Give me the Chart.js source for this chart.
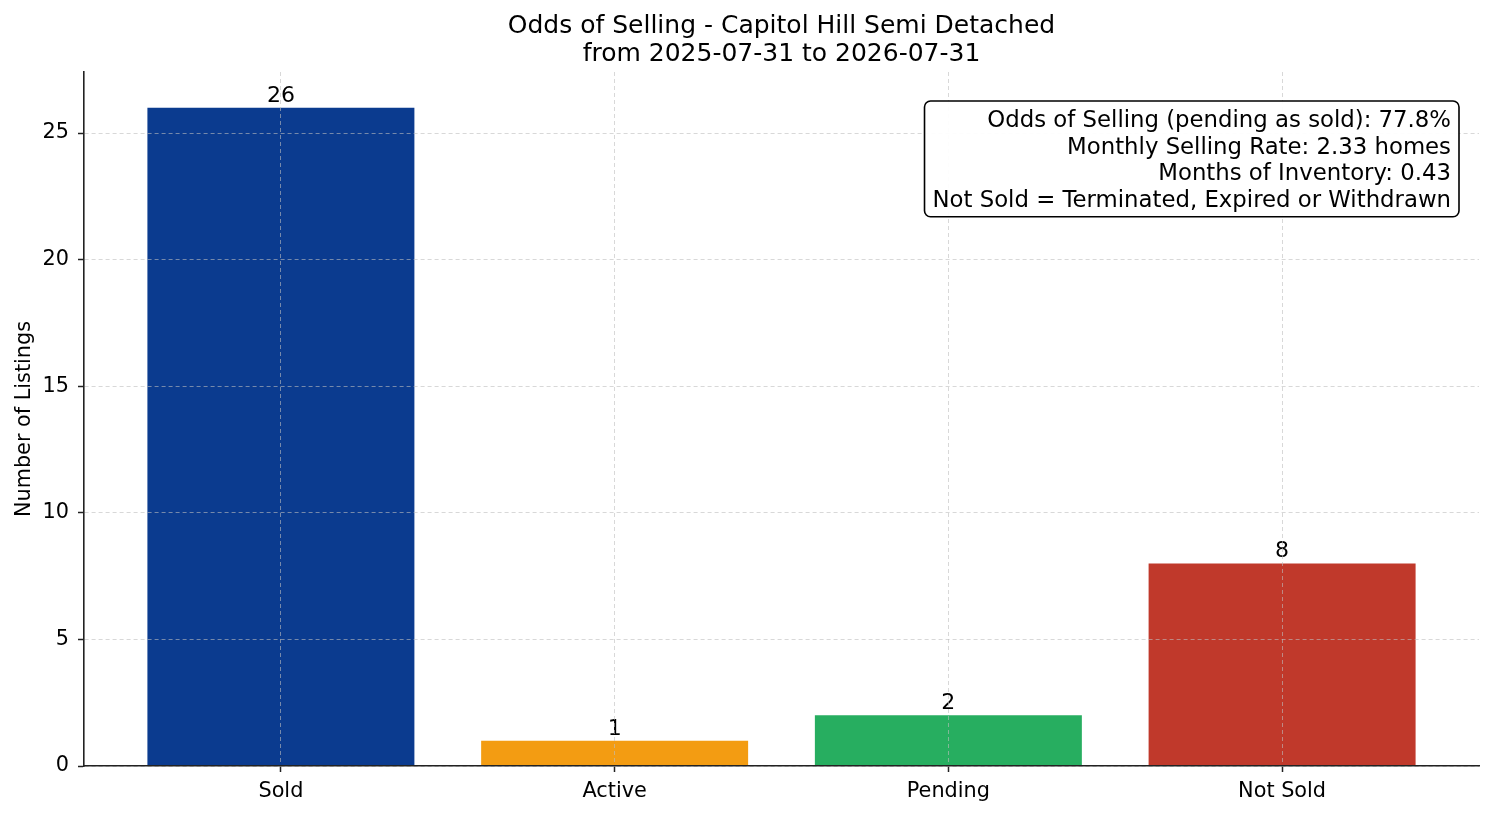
<!DOCTYPE html>
<html>
<head>
<meta charset="utf-8">
<title>Odds of Selling</title>
<script src="https://cdn.jsdelivr.net/npm/chart.js@4.4.1/dist/chart.umd.min.js"></script>
<style>
  html, body { margin: 0; padding: 0; background: #fff; }
  #wrap { width: 1494px; height: 816px; }
</style>
</head>
<body>
<div id="wrap"><canvas id="oddsChart" width="1494" height="816"></canvas></div>
<script>
// data
const categories = ['Sold', 'Active', 'Pending', 'Not Sold'];
const counts = [26, 1, 2, 8];
const barColors = ['#0b3b8f', '#f39c12', '#27ae60', '#c0392b'];
const yTicks = [0, 5, 10, 15, 20, 25];
const titleLines = ['Odds of Selling - Capitol Hill Semi Detached', 'from 2025-07-31 to 2026-07-31'];
const infoLines = [
  'Odds of Selling (pending as sold): 77.8%',
  'Monthly Selling Rate: 2.33 homes',
  'Months of Inventory: 0.43',
  'Not Sold = Terminated, Expired or Withdrawn'
];

const FONT = "'DejaVu Sans', sans-serif";
const gridColor = 'rgba(190,190,190,0.6)';
const axisColor = '#222';

// numbers on top of the bars
const barLabels = {
  id: 'barLabels',
  afterDatasetsDraw(chart) {
    const c = chart.ctx;
    const meta = chart.getDatasetMeta(0);
    c.save();
    c.font = '22px ' + FONT;
    c.fillStyle = '#000';
    c.textAlign = 'center';
    c.textBaseline = 'alphabetic';
    meta.data.forEach((bar, i) => {
      c.fillText(String(counts[i]), bar.x, bar.y - 6);
    });
    c.restore();
  }
};

// stats box in the top right corner
const infoBox = {
  id: 'infoBox',
  afterDraw(chart) {
    const c = chart.ctx;
    const area = chart.chartArea;
    const lineH = 26.7;
    const pad = 8;
    c.save();
    c.font = '22.8px ' + FONT;
    let w = 0;
    infoLines.forEach(t => { w = Math.max(w, c.measureText(t).width); });
    const right = area.right - 20;
    const top = area.top + 29;
    const h = lineH * infoLines.length + 9;
    const left = right - w - pad * 2;
    c.beginPath();
    c.roundRect(left, top, right - left, h, 6);
    c.fillStyle = 'rgba(255,255,255,0.95)';
    c.fill();
    c.lineWidth = 1.6;
    c.strokeStyle = '#000';
    c.stroke();
    c.fillStyle = '#000';
    c.textAlign = 'right';
    c.textBaseline = 'middle';
    infoLines.forEach((t, i) => {
      c.fillText(t, right - pad, top + 20 + i * lineH);
    });
    c.restore();
  }
};

new Chart(document.getElementById('oddsChart'), {
  type: 'bar',
  data: {
    datasets: [{
      data: categories.map((name, i) => ({ x: i, y: counts[i] })),
      backgroundColor: barColors,
      borderWidth: 0,
      inflateAmount: 0,
      barPercentage: 0.8,
      categoryPercentage: 1.0
    }]
  },
  options: {
    responsive: false,
    animation: false,
    layout: { padding: { left: 0, right: 15, top: 0, bottom: 0 } },
    scales: {
      x: {
        type: 'linear',
        min: -0.59,
        max: 3.59,
        offset: false,
        afterBuildTicks: axis => { axis.ticks = categories.map((n, i) => ({ value: i })); },
        afterFit: axis => { axis.height = 50; },
        ticks: {
          color: '#000',
          font: { family: FONT, size: 20.8 },
          padding: 7,
          callback: v => categories[v]
        },
        grid: {
          z: 1,
          offset: false,
          color: gridColor,
          lineWidth: 1,
          tickColor: axisColor,
          tickLength: 6,
          tickWidth: 1.5
        },
        border: { display: true, color: axisColor, width: 1.6, dash: [4, 3], z: 2 }
      },
      y: {
        min: 0,
        max: 27.41,
        afterBuildTicks: axis => { axis.ticks = yTicks.map(v => ({ value: v })); },
        afterFit: axis => { axis.width = 84; },
        ticks: {
          color: '#000',
          font: { family: FONT, size: 20.8 },
          padding: 9
        },
        grid: {
          z: 1,
          color: gridColor,
          lineWidth: 1,
          tickColor: axisColor,
          tickLength: 6,
          tickWidth: 1.5
        },
        border: { display: true, color: axisColor, width: 1.6, dash: [4, 3], z: 2 },
        title: {
          display: true,
          text: 'Number of Listings',
          color: '#000',
          font: { family: FONT, size: 20.8 },
          padding: { top: 12, bottom: 0 }
        }
      }
    },
    plugins: {
      legend: { display: false },
      tooltip: { enabled: false },
      title: {
        display: true,
        text: titleLines,
        fullSize: false,
        color: '#000',
        font: { family: FONT, size: 25, weight: 'normal', lineHeight: 1.12 },
        padding: { top: 12, bottom: 4 }
      }
    }
  },
  plugins: [barLabels, infoBox]
});
</script>
</body>
</html>
